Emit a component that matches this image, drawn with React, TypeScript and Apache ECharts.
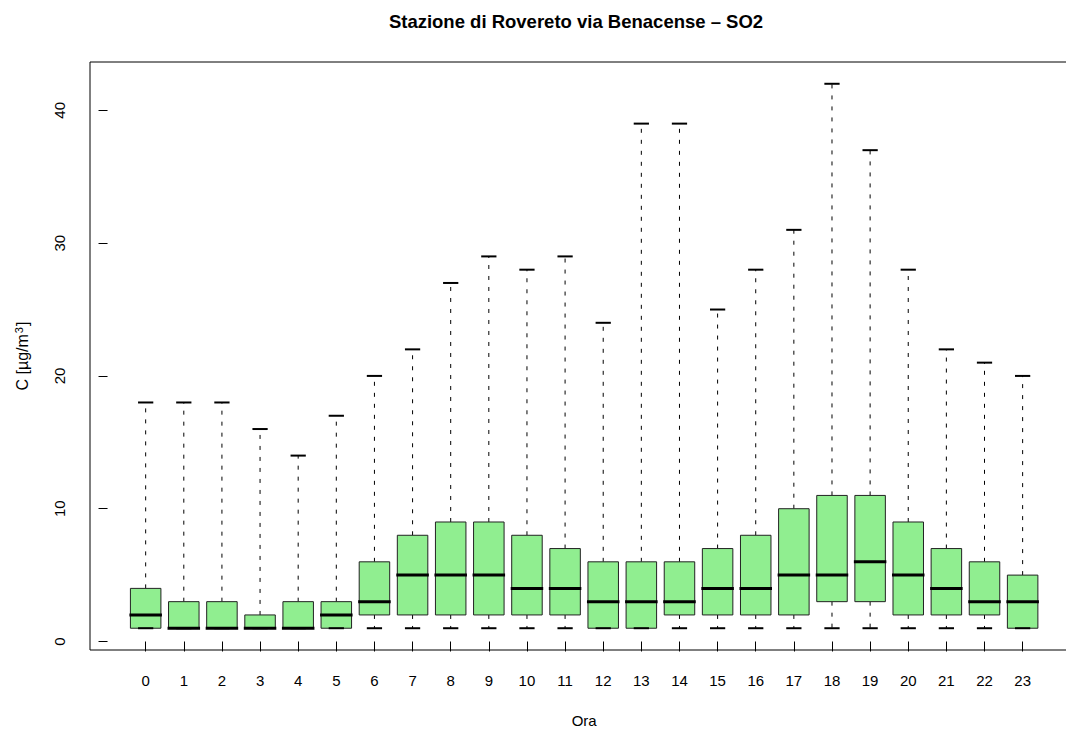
import React, { useEffect, useRef } from "react";
import * as echarts from "echarts";

const HOURS = ["0","1","2","3","4","5","6","7","8","9","10","11","12","13","14","15","16","17","18","19","20","21","22","23"];
const MIN = [1,1,1,1,1,1,1,1,1,1,1,1,1,1,1,1,1,1,1,1,1,1,1,1];
const Q1 = [1,1,1,1,1,1,2,2,2,2,2,2,1,1,2,2,2,2,3,3,2,2,2,1];
const MED = [2,1,1,1,1,2,3,5,5,5,4,4,3,3,3,4,4,5,5,6,5,4,3,3];
const Q3 = [4,3,3,2,3,3,6,8,9,9,8,7,6,6,6,7,8,10,11,11,9,7,6,5];
const MAX = [18,18,18,16,14,17,20,22,27,29,28,29,24,39,39,25,28,31,42,37,28,22,21,20];
const Y_TICKS = [0, 10, 20, 30, 40];

const TITLE = "Stazione di Rovereto via Benacense \u2013 SO2";
const X_TITLE = "Ora";
const Y_TITLE_MAIN = "C [\u00b5g/m";
const Y_TITLE_SUP = "3";
const Y_TITLE_END = "]";

const FONT = "'Liberation Sans', Arial, Helvetica, sans-serif";

export default function App() {
  const ref = useRef<HTMLDivElement>(null);
  useEffect(() => {
    if (!ref.current) return;
    const chart = echarts.init(ref.current, null, { renderer: "svg" });
    const data = HOURS.map((h, i) => [i + 1, MIN[i], Q1[i], MED[i], Q3[i], MAX[i]]);
    const gridLeft = 90;
    const gridTop = 62;
    const gridWidth = 988.3;
    const gridHeight = 588;
    const option: any = {
      animation: false,
      backgroundColor: "#ffffff",
      textStyle: { fontFamily: FONT },
      grid: {
        left: gridLeft,
        top: gridTop,
        width: gridWidth,
        height: gridHeight,
        show: true,
        borderColor: "#000",
        borderWidth: 1,
        backgroundColor: "transparent",
      },
      xAxis: {
        type: "value",
        min: -0.46,
        max: 25.46,
        axisLine: { show: false },
        splitLine: { show: false },
        axisTick: {
          show: true,
          length: 10,
          customValues: HOURS.map((h, i) => i + 1),
          lineStyle: { color: "#000", width: 1 },
        },
        axisLabel: {
          show: true,
          customValues: HOURS.map((h, i) => i + 1),
          formatter: (v: number) => HOURS[Math.round(v) - 1] ?? "",
          fontSize: 15,
          color: "#000",
          fontFamily: FONT,
          margin: 23,
        },
      },
      yAxis: {
        type: "value",
        min: -0.64,
        max: 43.64,
        axisLine: { show: false },
        splitLine: { show: false },
        axisTick: {
          show: true,
          length: 9,
          customValues: Y_TICKS,
          lineStyle: { color: "#000", width: 1 },
        },
        axisLabel: {
          show: true,
          customValues: Y_TICKS,
          rotate: 90,
          fontSize: 15,
          color: "#000",
          fontFamily: FONT,
          margin: 23,
        },
      },
      series: [
        {
          type: "custom",
          data,
          encode: { x: 0, y: [1, 2, 3, 4, 5] },
          renderItem: (params: any, api: any) => {
            const xv = api.value(0);
            const pMin = api.coord([xv, api.value(1)]);
            const pQ1 = api.coord([xv, api.value(2)]);
            const pMed = api.coord([xv, api.value(3)]);
            const pQ3 = api.coord([xv, api.value(4)]);
            const pMax = api.coord([xv, api.value(5)]);
            const bw = api.size([0.8, 0])[0];
            const sw = bw / 2;
            const cx = pMed[0];
            const dash = { stroke: "#000", lineWidth: 1, lineDash: [4, 7] };
            const cap = { stroke: "#000", lineWidth: 2 };
            return {
              type: "group",
              children: [
                {
                  type: "line",
                  shape: { x1: cx, y1: pQ3[1], x2: cx, y2: pMax[1] },
                  style: dash,
                },
                {
                  type: "line",
                  shape: { x1: cx, y1: pQ1[1], x2: cx, y2: pMin[1] },
                  style: dash,
                },
                {
                  type: "rect",
                  shape: { x: cx - bw / 2, y: pQ3[1], width: bw, height: pQ1[1] - pQ3[1] },
                  style: { fill: "#90EE90", stroke: "#222", lineWidth: 1 },
                },
                {
                  type: "line",
                  shape: { x1: cx - sw / 2, y1: pMax[1], x2: cx + sw / 2, y2: pMax[1] },
                  style: cap,
                },
                {
                  type: "line",
                  shape: { x1: cx - sw / 2, y1: pMin[1], x2: cx + sw / 2, y2: pMin[1] },
                  style: cap,
                },
                {
                  type: "line",
                  shape: { x1: cx - bw / 2 - 1, y1: pMed[1], x2: cx + bw / 2 + 1, y2: pMed[1] },
                  style: { stroke: "#000", lineWidth: 3 },
                },
              ],
            };
          },
        },
      ],
      graphic: [
        {
          type: "text",
          x: 576,
          y: 21,
          style: {
            text: TITLE,
            fontSize: 18.5,
            fontWeight: "bold",
            fontFamily: FONT,
            fill: "#000",
            textAlign: "center",
            textVerticalAlign: "middle",
          },
        },
        {
          type: "text",
          x: gridLeft + gridWidth / 2,
          y: 720,
          style: {
            text: X_TITLE,
            fontSize: 15,
            fontFamily: FONT,
            fill: "#000",
            textAlign: "center",
            textVerticalAlign: "middle",
          },
        },
        {
          type: "text",
          x: 22,
          y: gridTop + gridHeight / 2,
          rotation: Math.PI / 2,
          style: {
            text: "{a|" + Y_TITLE_MAIN + "}{s|" + Y_TITLE_SUP + "}{a|" + Y_TITLE_END + "}",
            fontFamily: FONT,
            fill: "#000",
            textAlign: "center",
            textVerticalAlign: "middle",
            rich: {
              a: { fontSize: 16, fontFamily: FONT, fill: "#000", lineHeight: 18 },
              s: { fontSize: 11, fontFamily: FONT, fill: "#000", verticalAlign: "top", lineHeight: 18, padding: [0, 1, 6, 1] },
            },
          },
        },
      ],
    };
    chart.setOption(option);
    return () => chart.dispose();
  }, []);
  return (
    <div
      style={{
        position: "absolute",
        left: 0,
        top: 0,
        width: 1066,
        height: 729,
        overflow: "hidden",
        background: "#fff",
      }}
    >
      <div ref={ref} style={{ width: 1080, height: 729 }} />
    </div>
  );
}
